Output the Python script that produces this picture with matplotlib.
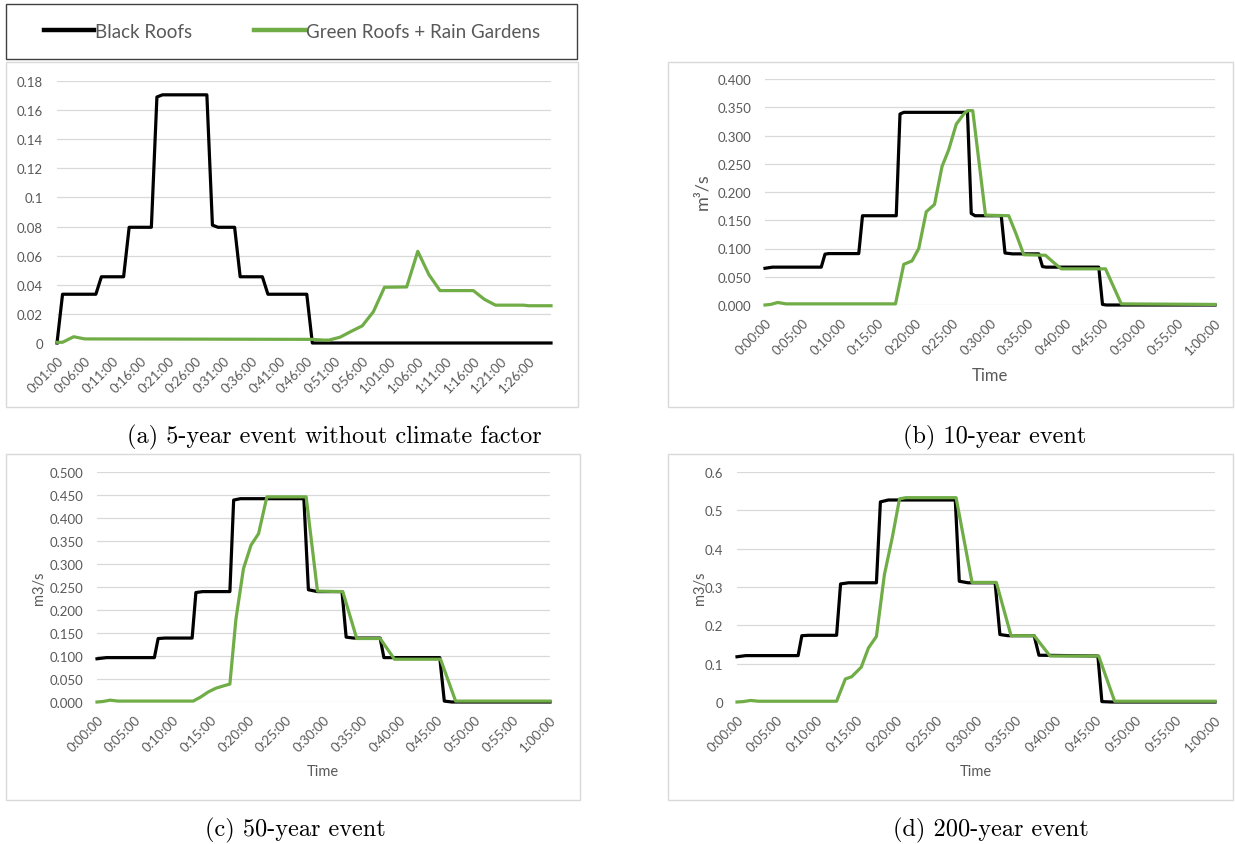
import numpy as np
import matplotlib
matplotlib.use("Agg")
import matplotlib.pyplot as plt
from matplotlib.patches import Rectangle
from matplotlib.lines import Line2D

# ---------------- data (time in minutes, flow in m3/s) ----------------
# (a) 5-year event without climate factor
t_a_black = [1, 2, 8, 9, 13, 14, 18, 19, 20, 28, 29, 30, 33, 34, 38, 39, 46, 47, 90]
q_a_black = [0, 0.0335, 0.0335, 0.0455, 0.0455, 0.0795, 0.0795, 0.169, 0.1705, 0.1705,
             0.081, 0.0795, 0.0795, 0.0455, 0.0455, 0.0335, 0.0335, 0, 0]
t_a_green = [1, 2, 4, 6, 21, 47, 49, 50, 52, 54, 56, 58, 60, 64, 66, 68, 70, 76, 78, 80, 85, 86, 90]
q_a_green = [0.0005, 0.0005, 0.0043, 0.0028, 0.0027, 0.0025, 0.002, 0.002, 0.004, 0.008,
             0.0118, 0.0215, 0.0383, 0.0385, 0.063, 0.047, 0.036, 0.036, 0.030, 0.026,
             0.026, 0.0256, 0.0256]

# (b) 10-year event
t_b_black = [0, 1, 7.5, 8, 8.5, 12.5, 13, 17.5, 18, 18.5, 27, 27.5, 28, 31.5, 32, 33,
             36.5, 37, 37.5, 44.5, 45, 45.5, 60]
q_b_black = [0.065, 0.067, 0.067, 0.090, 0.091, 0.091, 0.158, 0.158, 0.338, 0.341, 0.341,
             0.162, 0.158, 0.158, 0.092, 0.0905, 0.0905, 0.068, 0.067, 0.067, 0.001, 0, 0]
t_b_green = [0, 0.75, 1.7, 2.8, 17.4, 18.5, 19.6, 20.5, 21.5, 22.6, 23.6, 24.5, 25.5, 26.5,
             27, 27.7, 29.4, 32.5, 33.5, 34.5, 37.4, 38.5, 39.5, 45.4, 47.5, 60]
q_b_green = [0, 0.001, 0.0045, 0.002, 0.002, 0.072, 0.078, 0.100, 0.165, 0.178, 0.245,
             0.275, 0.320, 0.338, 0.344, 0.344, 0.159, 0.158, 0.125, 0.089, 0.088, 0.075,
             0.064, 0.064, 0.002, 0.001]

# (c) 50-year event
t_c_black = [0, 1.25, 7.6, 8.1, 9, 12.6, 13.1, 14, 17.6, 18.1, 19, 27.4, 28, 29.2, 32.45,
             33, 34, 37.5, 38, 45.4, 46, 47, 60]
q_c_black = [0.094, 0.0965, 0.0965, 0.138, 0.139, 0.139, 0.238, 0.240, 0.240, 0.439, 0.442,
             0.442, 0.244, 0.240, 0.240, 0.141, 0.139, 0.139, 0.0965, 0.0965, 0.002, 0, 0]
t_c_green = [0, 0.75, 1.75, 2.75, 12.75, 13.75, 14.75, 15.75, 16.75, 17.6, 18.4, 19.4,
             20.4, 21.4, 22.5, 27.7, 29.2, 32.55, 34.4, 37.5, 39.4, 45.5, 47.5, 60]
q_c_green = [0, 0.001, 0.004, 0.002, 0.002, 0.011, 0.022, 0.030, 0.035, 0.039, 0.180,
             0.290, 0.341, 0.366, 0.446, 0.446, 0.241, 0.240, 0.138, 0.138, 0.093, 0.093,
             0.002, 0.002]

# (d) 200-year event
t_d_black = [0, 1.1, 7.67, 8.14, 9, 12.5, 13, 14, 17.5, 18, 19, 27.4, 27.9, 29, 32.4, 33,
             34, 37.3, 37.9, 45.3, 45.8, 47, 60]
q_d_black = [0.118, 0.121, 0.121, 0.173, 0.174, 0.174, 0.308, 0.311, 0.311, 0.522, 0.527,
             0.527, 0.315, 0.311, 0.311, 0.176, 0.173, 0.173, 0.122, 0.120, 0.001, 0, 0]
t_d_green = [0, 0.75, 1.7, 2.7, 12.5, 13.6, 14.4, 15.6, 16.5, 17.5, 18.5, 19.5, 20.4, 21.2,
             27.5, 29.5, 32.55, 34.4, 37.3, 39.3, 45.4, 47.4, 60]
q_d_green = [0, 0.001, 0.004, 0.002, 0.002, 0.060, 0.066, 0.091, 0.141, 0.171, 0.332, 0.430,
             0.530, 0.533, 0.533, 0.312, 0.312, 0.173, 0.173, 0.120, 0.120, 0.002, 0.002]

series_names = ["Black Roofs", "Green Roofs + Rain Gardens"]
captions = ["(a) 5-year event without climate factor", "(b) 10-year event",
            "(c) 50-year event", "(d) 200-year event"]

# ---------------- styling ----------------
BLACK = "#000000"
GREEN = "#70AD47"
TXT = "#595959"
GRID = "#D9D9D9"
UI_FONT = "Lato"
CAP_FONT = "cmr10"
TICK_SIZE = 9.5

W, H = 1235, 845
fig = plt.figure(figsize=(W / 100, H / 100), dpi=100)
fig.patch.set_facecolor("white")


def frac_rect(l, t, r, b):
    return [l / W, 1 - b / H, (r - l) / W, (b - t) / H]


def frame(l, t, r, b, color):
    fig.add_artist(Rectangle((l / W, 1 - b / H), (r - l) / W, (b - t) / H,
                             transform=fig.transFigure, fill=False,
                             edgecolor=color, lw=1.0))


def hms(m):
    m = int(round(m))
    return f"{m // 60}:{m % 60:02d}:00"


def panel(px, tb, qb, tg, qg, xlim, xticks, yticks, yfmt, ypad):
    ax = fig.add_axes(frac_rect(*px))
    ax.plot(tb, qb, color=BLACK, lw=2.3, clip_on=False, solid_joinstyle="round")
    ax.plot(tg, qg, color=GREEN, lw=2.3, clip_on=False, solid_joinstyle="round")
    ax.set_xlim(*xlim)
    ax.set_ylim(yticks[0], yticks[-1])
    ax.set_xticks(xticks)
    ax.set_xticklabels([hms(v) for v in xticks], rotation=45, ha="right", va="top",
                       rotation_mode="anchor", fontfamily=UI_FONT, fontsize=TICK_SIZE,
                       color=TXT)
    ax.set_yticks(yticks)
    ax.set_yticklabels([yfmt(v) for v in yticks], fontfamily=UI_FONT, fontsize=TICK_SIZE,
                       color=TXT)
    ax.tick_params(axis="both", length=0)
    ax.tick_params(axis="x", pad=8)
    ax.tick_params(axis="y", pad=ypad)
    ax.yaxis.grid(True, color=GRID, lw=0.9)
    ax.set_axisbelow(True)
    for s in ax.spines.values():
        s.set_visible(False)
    return ax


# outer frames
frame(6, 5, 577, 60, "#404040")
frame(6, 63, 578, 408, GRID)
frame(668, 63, 1233, 408, GRID)
frame(6, 455, 580, 801, GRID)
frame(668, 455, 1233, 801, GRID)

fmt_g = lambda v: f"{v:g}"
fmt_3 = lambda v: f"{v:.3f}"

panel((57, 82, 551, 344), t_a_black, q_a_black, t_a_green, q_a_green,
      (1, 90), list(range(1, 87, 5)), np.round(np.arange(0, 0.181, 0.02), 2), fmt_g, 10)
panel((765, 80, 1215, 306), t_b_black, q_b_black, t_b_green, q_b_green,
      (0, 60), list(range(0, 61, 5)), np.round(np.arange(0, 0.401, 0.05), 3), fmt_3, 10)
panel((97, 473, 550, 703), t_c_black, q_c_black, t_c_green, q_c_green,
      (0, 60), list(range(0, 61, 5)), np.round(np.arange(0, 0.501, 0.05), 3), fmt_3, 10)
panel((737, 473, 1215, 703), t_d_black, q_d_black, t_d_green, q_d_green,
      (0, 60), list(range(0, 61, 5)), np.round(np.arange(0, 0.601, 0.1), 1), fmt_g, 10)

# axis titles
def ftext(x, y, s, **kw):
    fig.text(x / W, 1 - y / H, s, **kw)

ftext(702, 192, "m³/s", rotation=90, ha="center", va="center",
      fontfamily=UI_FONT, fontsize=13, color=TXT)
ftext(39, 588, "m3/s", rotation=90, ha="center", va="center",
      fontfamily=UI_FONT, fontsize=10.5, color=TXT)
ftext(700, 588, "m3/s", rotation=90, ha="center", va="center",
      fontfamily=UI_FONT, fontsize=10.5, color=TXT)
ftext(990, 376, "Time", ha="center", va="center", fontfamily=UI_FONT, fontsize=12, color=TXT)
ftext(323, 772, "Time", ha="center", va="center", fontfamily=UI_FONT, fontsize=10.5, color=TXT)
ftext(976, 772, "Time", ha="center", va="center", fontfamily=UI_FONT, fontsize=10.5, color=TXT)

# sub-figure captions
for (cx, cy), cap in zip([(334, 437), (995, 437), (295, 830), (991, 830)], captions):
    ftext(cx, cy, cap, ha="center", va="center", fontfamily=CAP_FONT, fontsize=17.5,
          color="black")

# shared legend
handles = [Line2D([], [], color=BLACK, lw=3.2), Line2D([], [], color=GREEN, lw=3.2)]
leg = fig.legend(handles, series_names, loc="center",
                 bbox_to_anchor=(292 / W, 1 - 32.5 / H), ncol=2, frameon=False,
                 handlelength=2.67, handletextpad=0.1, columnspacing=3.3,
                 prop={"family": UI_FONT, "size": 13.5})
for t in leg.get_texts():
    t.set_color(TXT)

fig.savefig("out.png", dpi=100, facecolor="white")
